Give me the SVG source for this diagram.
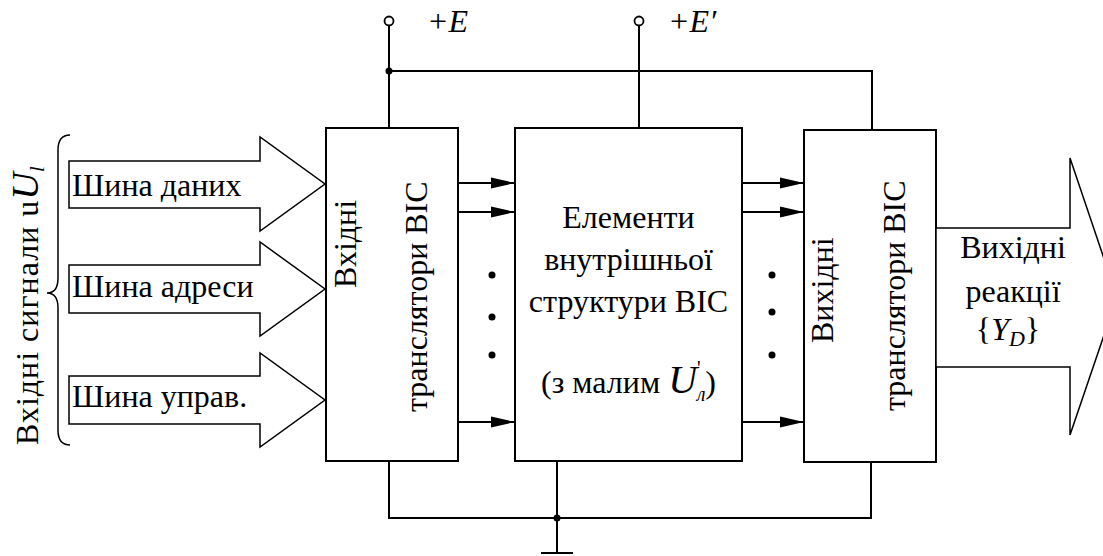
<svg xmlns="http://www.w3.org/2000/svg" width="1103" height="556" viewBox="0 0 1103 556">
<style>
  .box { fill: #fff; stroke: #000; stroke-width: 2; }
  .bus { fill: #fff; stroke: #000; stroke-width: 1.5; }
  .wire { fill: none; stroke: #000; stroke-width: 2; }
  .t { font-family: "Liberation Serif", "Times New Roman", serif; font-size: 32px; fill: #000; }
  .it { font-style: italic; }
  .c { text-anchor: middle; }
</style>
<defs>
  <marker id="ah" markerUnits="userSpaceOnUse" markerWidth="24" markerHeight="12" refX="24" refY="6" orient="auto">
    <path d="M0,0.5 L24,6 L0,11.5 z" fill="#000"/>
  </marker>
</defs>
<rect width="1103" height="556" fill="#fff"/>

<g id="connectors">
  <line class="wire" x1="389" y1="25" x2="389" y2="128"/>
  <polyline class="wire" points="389,71 872,71 872,130"/>
  <line class="wire" x1="639" y1="25" x2="639" y2="128"/>
  <circle cx="389" cy="21" r="4.5" fill="#fff" stroke="#000" stroke-width="1.8"/>
  <circle cx="639" cy="21" r="4.5" fill="#fff" stroke="#000" stroke-width="1.8"/>
  <circle cx="389" cy="71" r="3.5" fill="#000"/>
  <polyline class="wire" points="389,461 389,518 871,518 871,462"/>
  <line class="wire" x1="557" y1="461" x2="557" y2="553"/>
  <line class="wire" x1="541" y1="553" x2="573" y2="553"/>
  <circle cx="557" cy="518" r="3.5" fill="#000"/>
  <line class="wire" x1="458" y1="183" x2="515" y2="183" marker-end="url(#ah)"/>
  <line class="wire" x1="458" y1="212" x2="515" y2="212" marker-end="url(#ah)"/>
  <line class="wire" x1="458" y1="422" x2="515" y2="422" marker-end="url(#ah)"/>
  <line class="wire" x1="742" y1="183" x2="804" y2="183" marker-end="url(#ah)"/>
  <line class="wire" x1="742" y1="212" x2="804" y2="212" marker-end="url(#ah)"/>
  <line class="wire" x1="742" y1="422" x2="804" y2="422" marker-end="url(#ah)"/>
  <circle cx="492" cy="275" r="3.5" fill="#000"/>
  <circle cx="492" cy="317" r="3.5" fill="#000"/>
  <circle cx="492" cy="355" r="3.5" fill="#000"/>
  <circle cx="772" cy="275" r="3.5" fill="#000"/>
  <circle cx="772" cy="312" r="3.5" fill="#000"/>
  <circle cx="772" cy="355" r="3.5" fill="#000"/>
</g>

<g id="labels-power">
  <text class="t it" x="427" y="32" font-size="26">+E</text>
  <text class="t it" x="668" y="32" font-size="26">+E′</text>
</g>

<g id="input-signals">
  <path d="M70,135 Q58,135 58,150 L58,278 Q58,293 47,293 Q58,293 58,308 L58,430 Q58,445 70,445" fill="none" stroke="#000" stroke-width="1.5"/>
  <text class="t" transform="translate(38,445) rotate(-90)" font-size="34" letter-spacing="1">Вхідні сигнали u<tspan class="it" font-size="38" letter-spacing="0">U</tspan><tspan class="it" font-size="22" dy="6">l</tspan></text>
</g>

<g id="bus-data">
  <polygon class="bus" points="69,161 260,161 260,137 325,184 260,231 260,208 69,208"/>
  <text class="t" x="72" y="196">Шина даних</text>
</g>
<g id="bus-address">
  <polygon class="bus" points="69,265 260,265 260,242 325,289 260,336 260,313 69,313"/>
  <text class="t" x="72" y="297">Шина адреси</text>
</g>
<g id="bus-control">
  <polygon class="bus" points="69,376 260,376 260,353 325,400 260,447 260,424 69,424"/>
  <text class="t" x="72" y="407">Шина управ.</text>
</g>

<g id="input-translators">
  <rect class="box" x="326" y="128" width="132" height="333"/>
  <text class="t" transform="translate(356,288) rotate(-90)">Вхідні</text>
  <text class="t" transform="translate(427,412) rotate(-90)">транслятори ВІС</text>
</g>

<g id="internal-structure">
  <rect class="box" x="515" y="128" width="227" height="333"/>
  <text class="t c" x="628.5" y="228">Елементи</text>
  <text class="t c" x="628.5" y="270">внутрішньої</text>
  <text class="t c" x="628.5" y="312">структури ВІС</text>
  <text class="t c" x="628.5" y="393">(з малим <tspan class="it" font-size="40">U</tspan><tspan font-size="20" dy="-18">'</tspan><tspan class="it" font-size="20" dy="26" dx="-4">л</tspan><tspan dy="-8">)</tspan></text>
</g>

<g id="output-translators">
  <rect class="box" x="804" y="130" width="132" height="332"/>
  <text class="t" transform="translate(833,343) rotate(-90)">Вихідні</text>
  <text class="t" transform="translate(905,411) rotate(-90)">транслятори ВІС</text>
</g>

<g id="output-reactions">
  <polygon class="bus" points="936,228 1070,228 1070,158 1117,297 1070,435 1070,367 936,367"/>
  <text class="t c" x="1013" y="258">Вихідні</text>
  <text class="t c" x="1013" y="302">реакції</text>
  <text class="t c" x="1008" y="340">{<tspan class="it">Y</tspan><tspan class="it" font-size="22" dy="6">D</tspan><tspan dy="-6">}</tspan></text>
</g>
</svg>
